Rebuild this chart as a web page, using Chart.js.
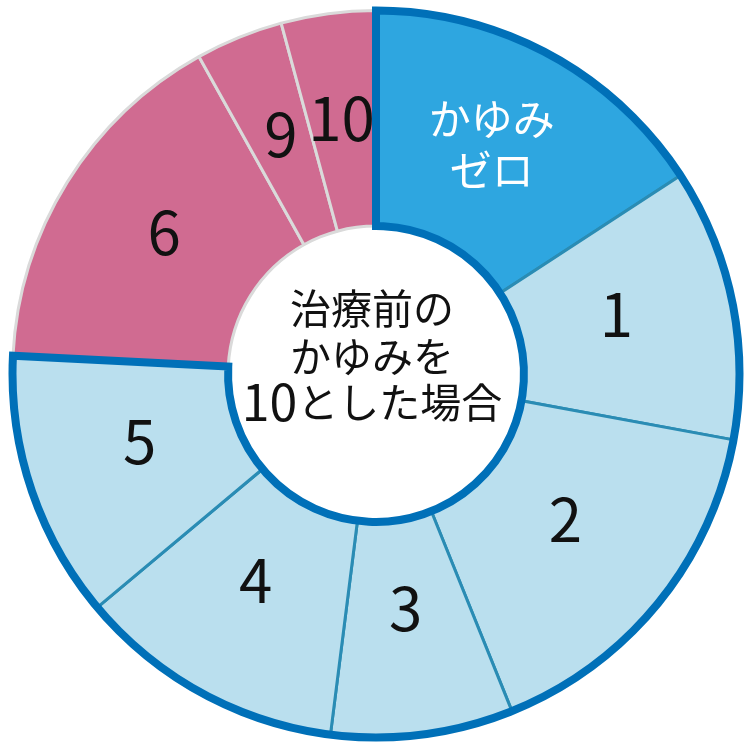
<!DOCTYPE html>
<html lang="ja">
<head>
<meta charset="utf-8">
<title>かゆみの変化</title>
<script src="https://cdn.jsdelivr.net/npm/chart.js@4"></script>
<style>
  html, body { margin: 0; padding: 0; background: #fff; }
  #wrap { width: 750px; height: 750px; }
</style>
</head>
<body>
<div id="wrap"><canvas id="myChart"></canvas></div>
<script>
// data (share of patients, %)
const labels = ['かゆみゼロ', '1', '2', '3', '4', '5', '6', '9', '10'];
const shares = [15.8, 12.1, 16.0, 8.1, 11.9, 11.9, 16.1, 3.9, 4.2];
const centerLines = ['治療前の', 'かゆみを', '10とした場合'];

const fills   = ['#2ea6e0', '#badfee', '#badfee', '#badfee', '#badfee', '#badfee', '#d06b91', '#d06b91', '#d06b91'];
const borders = ['#2a8cb4', '#2a8cb4', '#2a8cb4', '#2a8cb4', '#2a8cb4', '#2a8cb4', '#dadada', '#dadada', '#dadada'];
const textColors = ['#ffffff', '#111', '#111', '#111', '#111', '#111', '#111', '#111', '#111'];
const blueGroup = 6; // first 6 slices get the thick outline

const FONT = '"Noto Sans CJK JP", "Noto Sans", sans-serif';

// thick dark blue outline round the blue slices
const outlinePlugin = {
  id: 'outline',
  afterDatasetsDraw(chart) {
    const arcs = chart.getDatasetMeta(0).data;
    const first = arcs[0].getProps(['x', 'y', 'startAngle', 'innerRadius', 'outerRadius'], true);
    const last = arcs[blueGroup - 1].getProps(['endAngle'], true);
    const ctx = chart.ctx;
    ctx.save();
    ctx.beginPath();
    ctx.arc(first.x, first.y, first.outerRadius, first.startAngle, last.endAngle);
    ctx.arc(first.x, first.y, first.innerRadius, last.endAngle, first.startAngle, true);
    ctx.closePath();
    ctx.lineWidth = 8;
    ctx.lineJoin = 'miter';
    ctx.strokeStyle = '#0070b8';
    ctx.stroke();
    ctx.restore();
  }
};

// slice labels and centre text
const labelPlugin = {
  id: 'sliceLabels',
  afterDraw(chart) {
    const ctx = chart.ctx;
    const arcs = chart.getDatasetMeta(0).data;
    ctx.save();
    ctx.textAlign = 'center';
    ctx.textBaseline = 'middle';
    arcs.forEach((arc, i) => {
      const p = arc.getProps(['x', 'y', 'startAngle', 'endAngle', 'innerRadius', 'outerRadius'], true);
      const mid = (p.startAngle + p.endAngle) / 2;
      const r = p.innerRadius + (p.outerRadius - p.innerRadius) * 0.46;
      const x = p.x + Math.cos(mid) * r - 2;
      const y = p.y + Math.sin(mid) * r - 13;
      ctx.fillStyle = textColors[i];
      if (i === 0) {
        ctx.font = '42px ' + FONT;
        ctx.fillText('かゆみ', x, y - 25);
        ctx.fillText('ゼロ', x, y + 26);
      } else {
        ctx.font = '60px ' + FONT;
        ctx.fillText(labels[i], x, y + 2);
      }
    });

    // centre text
    const c = arcs[0].getProps(['x', 'y'], true);
    const cx = c.x - 4, cy = c.y - 18;
    ctx.fillStyle = '#111';
    ctx.font = '41px ' + FONT;
    ctx.fillText(centerLines[0], cx, cy - 48);
    ctx.fillText(centerLines[1], cx, cy);
    // last line: the digits are set a bit larger
    const digits = centerLines[2].match(/^\d+/)[0];
    const rest = centerLines[2].slice(digits.length);
    ctx.font = '50px ' + FONT;
    const wd = ctx.measureText(digits).width;
    ctx.font = '41px ' + FONT;
    const wr = ctx.measureText(rest).width;
    const left = cx - (wd + wr) / 2;
    ctx.textAlign = 'left';
    ctx.font = '50px ' + FONT;
    ctx.fillText(digits, left, cy + 46);
    ctx.font = '41px ' + FONT;
    ctx.fillText(rest, left + wd, cy + 46);
    ctx.restore();
  }
};

new Chart(document.getElementById('myChart'), {
  type: 'doughnut',
  data: {
    labels: labels,
    datasets: [{
      data: shares,
      backgroundColor: fills,
      borderColor: borders,
      borderWidth: 3
    }]
  },
  options: {
    responsive: true,
    maintainAspectRatio: false,
    animation: false,
    cutout: '40.7%',
    layout: { padding: { left: 11, right: 9, top: 9, bottom: 11 } },
    plugins: {
      legend: { display: false },
      tooltip: { enabled: false }
    }
  },
  plugins: [outlinePlugin, labelPlugin]
});
</script>
</body>
</html>
